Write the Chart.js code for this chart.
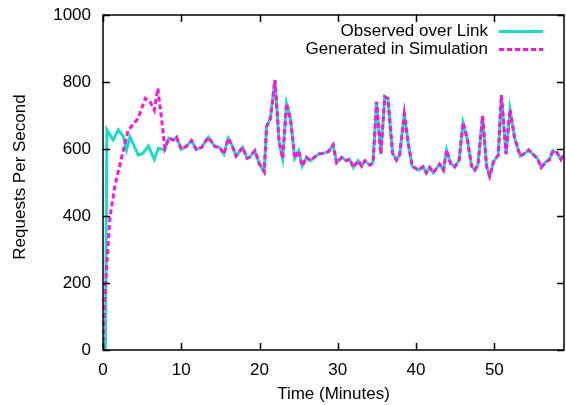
<!DOCTYPE html>
<html>
<head>
<meta charset="utf-8">
<script src="https://cdn.jsdelivr.net/npm/chart.js@4/dist/chart.umd.min.js"></script>
<style>
  html, body { margin: 0; padding: 0; background: #fff; }
  canvas { display: block; }
</style>
</head>
<body>
<canvas id="c" width="566" height="405"></canvas>
<script>
// ---- Data ----
const seriesNames = ["Observed over Link", "Generated in Simulation"];

// start-up part, observed
const obsStartTimes  = [0.3, 0.5, 1.3, 1.96, 2.6, 3.0, 3.45, 4.5, 5.1, 5.8, 6.55, 7.06, 7.9];
const obsStartValues = [0, 657, 627, 657, 637, 597, 636, 582, 587, 609, 569, 602, 597];

// start-up part, simulation
const simStartTimes  = [0, 0.15, 0.47, 0.9, 1.5, 2.4, 3.2, 4.5, 5.4, 6.0, 6.55, 7.0, 7.5, 7.9];
const simStartValues = [0, 120, 249, 398, 487, 577, 655, 692, 751, 741, 716, 781, 687, 602];

// remainder: both series coincide
const tailTimes = [8.4, 9.0, 9.4, 10.0, 10.7, 11.3, 11.9, 12.6, 13.45, 14.3, 14.9, 15.45, 16.0, 16.5, 17.0, 17.85,
  18.4, 18.7, 19.4, 20.0, 20.6, 20.9, 21.4, 21.97, 22.5, 22.95, 23.45, 23.97, 24.5, 25.0, 25.45, 26.0, 26.5,
  27.1, 27.6, 28.1, 28.8, 29.4, 29.85, 30.5, 31.1, 31.5, 32.0, 32.6, 33.05, 33.45, 34.1, 34.5, 34.95, 35.5,
  36.0, 36.4, 37.0, 37.5, 37.9, 38.5, 39.0, 39.5, 40.3, 40.9, 41.3, 41.75, 42.2, 43.0, 43.5, 43.9, 44.4,
  44.95, 45.5, 46.0, 46.5, 47.1, 47.5, 47.9, 48.5, 49.0, 49.4, 49.9, 50.5, 50.9, 51.5, 52.0, 52.6, 53.3,
  53.9, 54.4, 54.9, 55.5, 56.0, 56.6, 57.0, 57.5, 58.0, 58.5, 58.8];
const tailValues = [632, 627, 635, 599, 609, 625, 599, 605, 635, 607, 605, 585, 632, 610, 579, 605,
  572, 575, 595, 555, 532, 667, 692, 806, 622, 572, 736, 687, 572, 595, 549, 575, 565,
  577, 585, 587, 592, 612, 559, 575, 565, 570, 545, 565, 549, 565, 552, 559, 741, 585,
  756, 751, 587, 567, 582, 704, 617, 549, 537, 547, 529, 545, 529, 555, 537, 597, 557,
  547, 567, 679, 635, 549, 537, 552, 699, 549, 519, 562, 582, 761, 585, 718, 632, 579,
  587, 597, 585, 572, 545, 562, 567, 595, 589, 569, 582];

const xTickValues = [0, 10, 20, 30, 40, 50];
const yTickValues = [0, 200, 400, 600, 800, 1000];
const xTitle = "Time (Minutes)";
const yTitle = "Requests Per Second";

function toPoints(ts, vs) { return ts.map((t, i) => ({ x: t, y: vs[i] })); }

const obsPoints = toPoints(obsStartTimes.concat(tailTimes), obsStartValues.concat(tailValues));
const simPoints = toPoints(simStartTimes.concat(tailTimes), simStartValues.concat(tailValues));

const CYAN = "#1adcc8";
const MAGENTA = "#ff14d8";
const FONT = "'Liberation Sans', Arial, Helvetica, sans-serif";

// frame with inward ticks (gnuplot style) + legend + y title
const framePlugin = {
  id: "frame",
  afterDatasetsDraw(chart) {
    const { ctx, chartArea: a, scales } = chart;
    ctx.save();
    ctx.strokeStyle = "#000";
    ctx.lineWidth = 1.5;
    const tl = 7;
    ctx.beginPath();
    xTickValues.forEach(v => {
      const px = Math.round(scales.x.getPixelForValue(v)) + 0.5;
      ctx.moveTo(px, a.bottom); ctx.lineTo(px, a.bottom - tl);
      ctx.moveTo(px, a.top); ctx.lineTo(px, a.top + tl);
    });
    yTickValues.forEach(v => {
      const py = Math.round(scales.y.getPixelForValue(v)) + 0.5;
      ctx.moveTo(a.left, py); ctx.lineTo(a.left + tl, py);
      ctx.moveTo(a.right, py); ctx.lineTo(a.right - tl, py);
    });
    ctx.stroke();
    ctx.lineWidth = 1.5;
    ctx.strokeRect(a.left, a.top, a.right - a.left, a.bottom - a.top);

    // legend
    ctx.font = "17px " + FONT;
    ctx.fillStyle = "#000";
    ctx.textAlign = "right";
    ctx.textBaseline = "middle";
    const textRight = 488, sx0 = 499, sx1 = 543;
    const rows = [{ y: 31.5, color: CYAN, dash: [] }, { y: 49.5, color: MAGENTA, dash: [5, 3] }];
    rows.forEach((r, i) => {
      ctx.fillText(seriesNames[i], textRight, r.y);
      ctx.strokeStyle = r.color;
      ctx.lineWidth = 3;
      ctx.setLineDash(r.dash);
      ctx.beginPath();
      ctx.moveTo(sx0, r.y); ctx.lineTo(sx1, r.y);
      ctx.stroke();
      ctx.setLineDash([]);
    });

    // y axis title
    ctx.translate(20, 177);
    ctx.rotate(-Math.PI / 2);
    ctx.textAlign = "center";
    ctx.textBaseline = "middle";
    ctx.fillText(yTitle, 0, 0);
    ctx.restore();
  }
};

new Chart(document.getElementById("c"), {
  type: "line",
  data: {
    datasets: [
      { label: seriesNames[0], data: obsPoints, borderColor: CYAN, backgroundColor: CYAN,
        borderWidth: 3, pointRadius: 0, tension: 0, order: 2 },
      { label: seriesNames[1], data: simPoints, borderColor: MAGENTA, backgroundColor: MAGENTA,
        borderWidth: 3, borderDash: [5, 3], pointRadius: 0, tension: 0, order: 1 }
    ]
  },
  options: {
    responsive: false,
    devicePixelRatio: 1,
    animation: false,
    layout: { padding: { left: 0, right: 2, top: 15, bottom: 0 } },
    plugins: { legend: { display: false }, tooltip: { enabled: false } },
    scales: {
      x: {
        type: "linear", min: 0, max: 58.9,
        grid: { display: false, drawTicks: false },
        border: { display: false },
        afterBuildTicks: s => { s.ticks = xTickValues.map(v => ({ value: v })); },
        ticks: { color: "#000", padding: 10, maxRotation: 0, font: { family: FONT, size: 17 },
                 callback: v => String(v) },
        title: { display: true, text: xTitle, color: "#000", padding: { top: 2, bottom: 0 },
                 font: { family: FONT, size: 17 } },
        afterFit: s => { s.height = 55; s.paddingLeft = 0; s.paddingRight = 0; }
      },
      y: {
        type: "linear", min: 0, max: 1000,
        grid: { display: false, drawTicks: false },
        border: { display: false },
        afterBuildTicks: s => { s.ticks = yTickValues.map(v => ({ value: v })); },
        ticks: { color: "#000", padding: 12, font: { family: FONT, size: 17 },
                 callback: v => String(v) },
        title: { display: false },
        afterFit: s => { s.width = 103; s.paddingTop = 0; s.paddingBottom = 0; }
      }
    }
  },
  plugins: [framePlugin]
});
</script>
</body>
</html>
